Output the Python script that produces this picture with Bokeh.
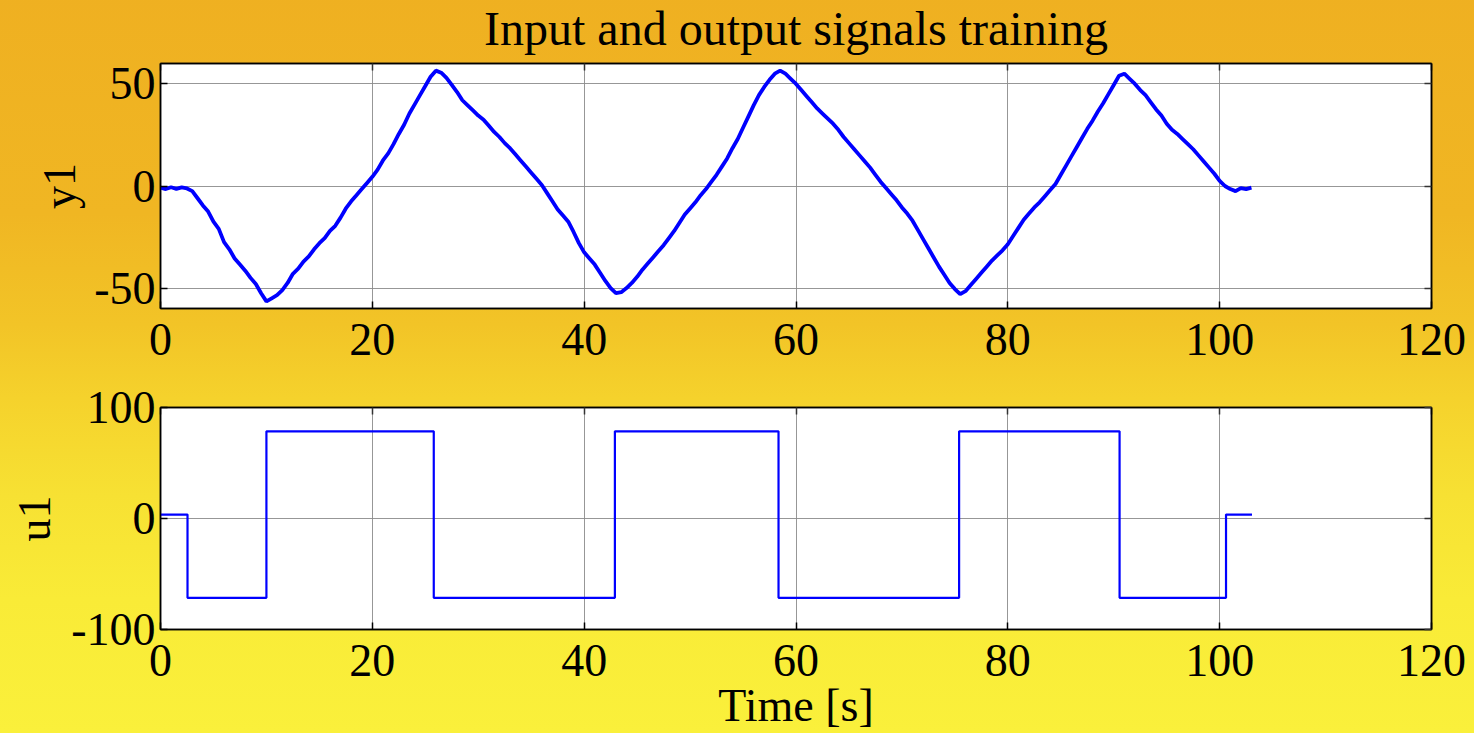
import numpy as np
from bokeh.plotting import figure
from bokeh.models import LinearAxis, Range1d, FixedTicker
from bokeh.layouts import column
from bokeh.embed import file_html
from bokeh.resources import INLINE

# ---------------- data ----------------
TITLE = "Input and output signals training"
X_LABEL = "Time [s]"
Y1_LABEL = "y1"
U1_LABEL = "u1"

X_TICKS = [0, 20, 40, 60, 80, 100, 120]
X_TICK_LABELS = ["0", "20", "40", "60", "80", "100", "120"]
Y1_TICKS = [-50, 0, 50]
Y1_TICK_LABELS = ["-50", "0", "50"]
U1_TICKS = [-100, 0, 100]
U1_TICK_LABELS = ["-100", "0", "100"]

Y1_T_STEP = 0.5
Y1 = [
    -0.8, -1.5, -0.6, -1.4, -0.7, -1.2, -2.5, -6.0, -9.5, -12.5,
    -17.5, -21.0, -27.5, -31.0, -35.5, -38.5, -41.5, -45.0, -48.0, -52.5,
    -56.5, -55.0, -53.5, -51.0, -47.5, -43.0, -40.5, -37.0, -34.5, -31.0,
    -28.0, -25.5, -22.0, -19.5, -15.5, -11.0, -7.5, -4.5, -1.5, 1.5,
    4.5, 8.0, 12.5, 16.0, 20.5, 25.5, 30.0, 35.5, 40.0, 44.5,
    49.0, 53.5, 56.5, 55.5, 53.0, 49.5, 46.0, 42.0, 39.5, 37.0,
    34.5, 32.5, 29.5, 26.5, 24.0, 21.0, 18.5, 15.5, 12.5, 9.5,
    6.5, 3.5, 0.5, -3.5, -7.5, -11.5, -14.5, -17.5, -22.5, -28.0,
    -32.5, -35.5, -38.5, -42.5, -46.5, -50.0, -52.5, -52.0, -50.0, -47.5,
    -44.5, -41.0, -38.0, -35.0, -32.0, -29.0, -25.5, -22.0, -18.0, -14.0,
    -11.0, -8.0, -4.5, -1.5, 2.0, 5.5, 9.5, 13.5, 18.5, 23.0,
    28.5, 34.0, 39.5, 44.5, 48.5, 52.0, 55.0, 56.5, 55.0, 52.5,
    50.0, 47.0, 44.0, 41.0, 38.0, 35.5, 33.0, 30.5, 27.5, 24.0,
    21.0, 18.0, 15.0, 12.0, 9.0, 5.5, 2.0, -1.0, -4.0, -7.0,
    -10.5, -13.5, -17.0, -21.5, -26.0, -30.5, -35.0, -39.5, -43.5, -47.5,
    -50.5, -53.0, -51.5, -48.5, -45.5, -42.5, -39.5, -36.5, -34.0, -31.5,
    -28.5, -24.5, -20.5, -16.5, -13.5, -10.5, -8.0, -5.0, -2.0, 1.0,
    5.5, 10.0, 14.5, 19.0, 23.5, 28.0, 32.0, 36.5, 40.5, 45.0,
    49.5, 54.0, 55.0, 52.5, 50.0, 47.0, 44.5, 41.0, 37.5, 34.5,
    30.5, 27.5, 25.5, 23.0, 20.5, 18.0, 15.0, 12.0, 9.0, 6.0,
    2.5, 0.0, -1.5, -2.5, -1.0, -1.5, -0.8,
]
Y1_T = list(np.arange(len(Y1)) * Y1_T_STEP)

# u1 step signal: switch times and level held after each switch
U1_T = [0.0, 2.55, 10.0, 25.8, 42.9, 58.35, 75.4, 90.55, 100.6, 103.05]
U1 = [3.5, -71.5, 78.5, -71.5, 78.5, -71.5, 78.5, -71.5, 3.5, 3.5]

X_MIN, X_MAX = 0, 120
Y1_MIN, Y1_MAX = -60, 60
U1_MIN, U1_MAX = -100, 100

# ---------------- style ----------------
FONT = "Liberation Serif"
FS = "46px"
BLUE = "#0000FF"
GRID = "#8c8c8c"
W = 1474
SHIFT = 10  # page is shifted up by this many px so the title can sit higher


def style(p, yticks, ylabels, ylabel, ylabel_standoff):
    p.background_fill_color = "white"
    p.border_fill_color = None
    p.outline_line_color = "black"
    p.outline_line_width = 1.5
    xa = p.xaxis[0]
    ya = p.yaxis[0]
    xa.ticker = FixedTicker(ticks=X_TICKS)
    xa.major_label_overrides = {t: l for t, l in zip(X_TICKS, X_TICK_LABELS)}
    ya.ticker = FixedTicker(ticks=yticks)
    ya.major_label_overrides = {t: l for t, l in zip(yticks, ylabels)}
    ya.axis_label = ylabel
    for ax in (xa, ya):
        ax.major_label_text_font = FONT
        ax.major_label_text_font_size = FS
        ax.major_label_text_color = "black"
        ax.axis_label_text_font = FONT
        ax.axis_label_text_font_size = FS
        ax.axis_label_text_font_style = "normal"
        ax.axis_label_text_color = "black"
        ax.axis_line_color = "black"
        ax.axis_line_width = 1.5
        ax.major_tick_line_color = "black"
        ax.major_tick_line_width = 1.5
        ax.major_tick_in = 7
        ax.major_tick_out = 0
        ax.minor_tick_line_color = None
    xa.major_label_standoff = 15
    ya.major_label_standoff = 5
    ya.axis_label_standoff = ylabel_standoff
    # box ticks (top and right), no labels
    top = LinearAxis(ticker=FixedTicker(ticks=X_TICKS))
    right = LinearAxis(ticker=FixedTicker(ticks=yticks))
    for ax in (top, right):
        ax.major_label_text_font_size = "0px"
        ax.major_label_text_color = None
        ax.major_label_standoff = 0
        ax.major_tick_in = 7
        ax.major_tick_out = 0
        ax.major_tick_line_color = "#333333"
        ax.major_tick_line_width = 1.5
        ax.minor_tick_line_color = None
        ax.axis_line_color = "black"
        ax.axis_line_width = 1.5
    p.add_layout(top, "above")
    p.add_layout(right, "right")
    p.xgrid.ticker = FixedTicker(ticks=X_TICKS)
    p.ygrid.ticker = FixedTicker(ticks=yticks)
    for g in (p.xgrid, p.ygrid):
        g.grid_line_color = GRID
        g.grid_line_width = 1
        g.grid_line_alpha = 0.9
    return xa, ya


p1 = figure(width=W, height=370 + SHIFT, x_range=Range1d(X_MIN, X_MAX), y_range=Range1d(Y1_MIN, Y1_MAX),
            output_backend="svg", toolbar_location=None,
            min_border_left=160, min_border_right=43, min_border_top=63 + SHIFT, min_border_bottom=62)
style(p1, Y1_TICKS, Y1_TICK_LABELS, Y1_LABEL, 6)
p1.title.text = TITLE
p1.title.align = "center"
p1.title.text_font = FONT
p1.title.text_font_size = "48px"
p1.title.text_font_style = "normal"
p1.title.text_color = "black"
p1.title.standoff = 17
p1.line(Y1_T, Y1, line_color=BLUE, line_width=3.8)

p2 = figure(width=W, height=363, x_range=Range1d(X_MIN, X_MAX), y_range=Range1d(U1_MIN, U1_MAX),
            output_backend="svg", toolbar_location=None,
            min_border_left=160, min_border_right=43, min_border_top=37, min_border_bottom=102)
xa2, ya2 = style(p2, U1_TICKS, U1_TICK_LABELS, U1_LABEL, 8)
xa2.axis_label = X_LABEL
xa2.axis_label_standoff = 1
p2.step(U1_T, U1, mode="after", line_color=BLUE, line_width=2.2)

layout = column(p1, p2, width=W, height=733 + SHIFT, spacing=0,
                styles={"margin-top": f"-{SHIFT}px",
                        "background": "linear-gradient(180deg, #EFB021 0%, #F0B623 30%, #F2C427 45%, "
                                      "#F5D22C 55%, #F7E133 68%, #F9EB37 82%, #FAF03B 100%)"})

open("out.html", "w").write(file_html(layout, INLINE))
